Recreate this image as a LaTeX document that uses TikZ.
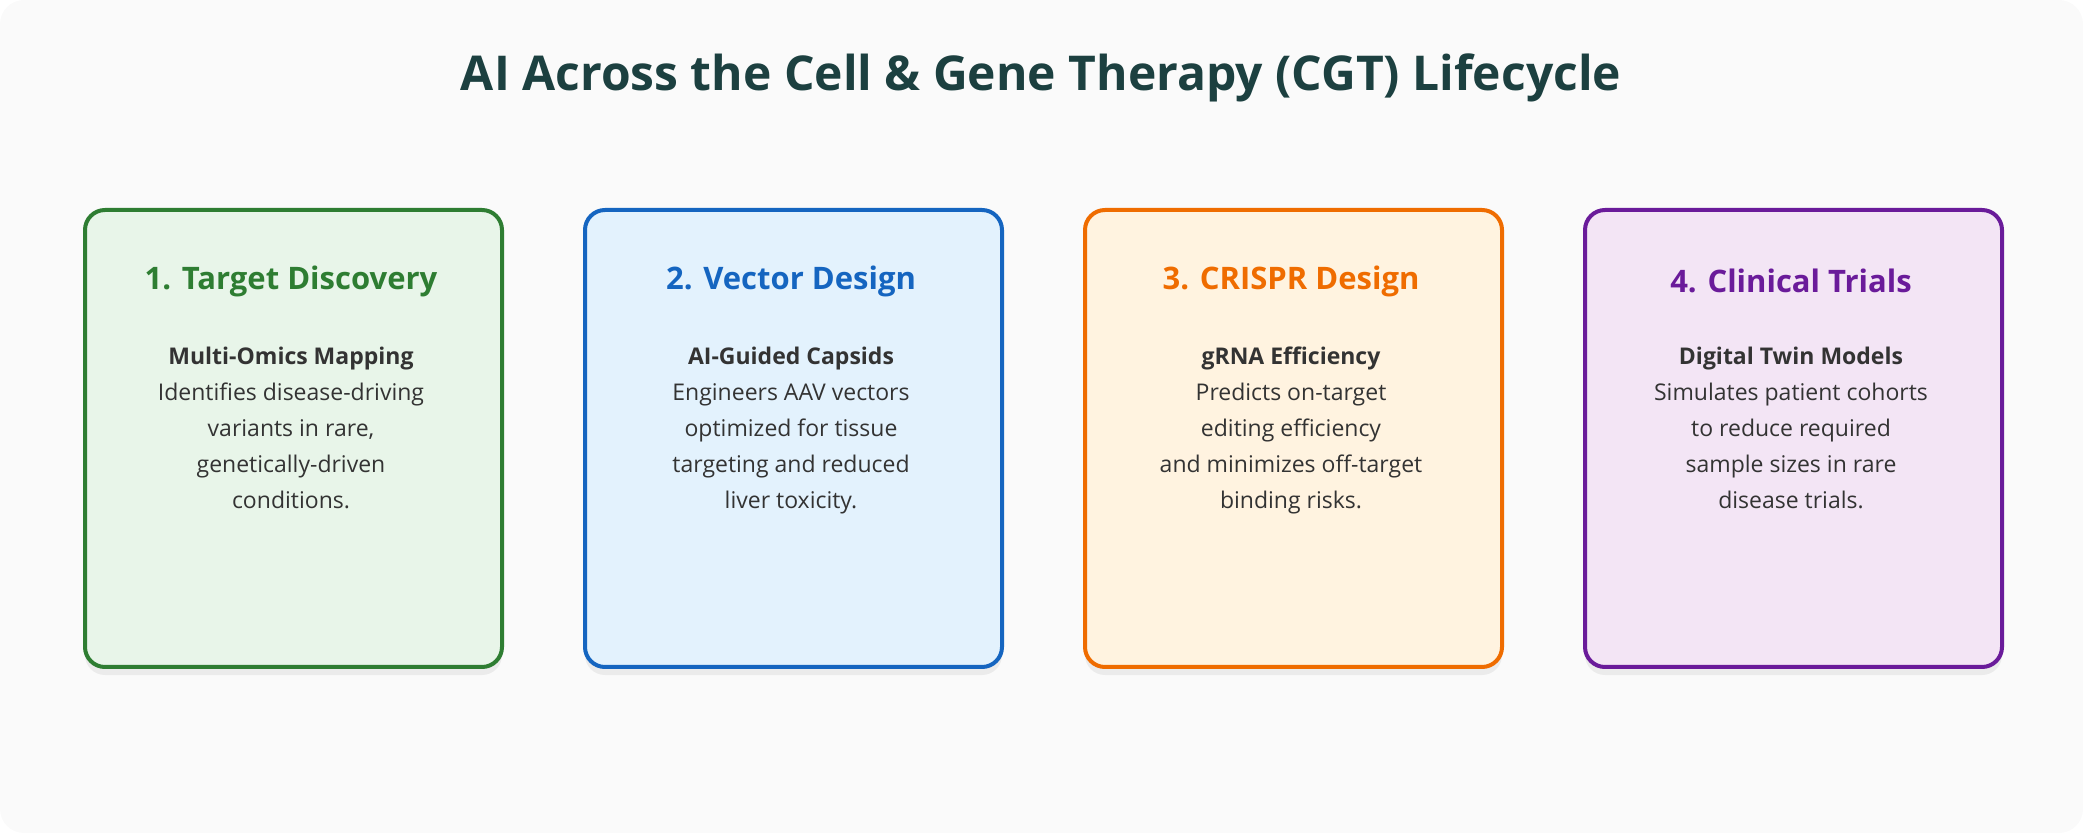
\documentclass[tikz,border=0pt]{standalone}
\usepackage{fontspec}
\setmainfont{Open Sans}
\begin{document}
\begin{tikzpicture}[x=0.5pt,y=-0.5pt,
 card/.style={draw=#1,line width=2pt,rounded corners=10pt,minimum width=208.5pt,minimum height=228.5pt,anchor=north west},
 ctitle/.style={font=\fontsize{15.5}{18}\selectfont\bfseries,text=#1},
 body/.style={align=center,anchor=north,text=black!80,font=\fontsize{11.5}{18}\selectfont},
 shadow/.style={fill=black!8,rounded corners=10pt,draw=none}]
\useasboundingbox (0,0) rectangle (2083,833);
\fill[black!2,rounded corners=12pt] (0,0) rectangle (2083,833);
\node[font=\fontsize{24}{28}\selectfont\bfseries,text={rgb,255:red,28;green,64;blue,64}] (title) at (1041,78) {AI Across the Cell \& Gene Therapy (CGT) Lifecycle};
\definecolor{g}{HTML}{2E7D32}\definecolor{gf}{HTML}{E8F5E9}
\definecolor{b}{HTML}{1565C0}\definecolor{bf}{HTML}{E3F2FD}
\definecolor{o}{HTML}{EF6C00}\definecolor{of}{HTML}{FFF3E0}
\definecolor{p}{HTML}{6A1B9A}\definecolor{pf}{HTML}{F3E5F5}
\foreach \x/\c/\n in {83/g/c1,583/b/c2,1083/o/c3,1583/p/c4}{
 \fill[shadow] (\x+2,214) rectangle ++(417,461);
 \node[card=\c,fill=\c f] (\n) at (\x,208) {};
}
\node[ctitle=g] (t1) at (291,281) {1. Target Discovery};
\node[ctitle=b] (t2) at (791,281) {2. Vector Design};
\node[ctitle=o] (t3) at (1291,281) {3. CRISPR Design};
\node[ctitle=p] (t4) at (1791,281) {4. Clinical Trials};
\node[body] (b1) at (291,340) {\textbf{Multi-Omics Mapping}\\Identifies disease-driving\\variants in rare,\\genetically-driven\\conditions.};
\node[body] (b2) at (791,340) {\textbf{AI-Guided Capsids}\\Engineers AAV vectors\\optimized for tissue\\targeting and reduced\\liver toxicity.};
\node[body] (b3) at (1291,340) {\textbf{gRNA Efficiency}\\Predicts on-target\\editing efficiency\\and minimizes off-target\\binding risks.};
\node[body] (b4) at (1791,340) {\textbf{Digital Twin Models}\\Simulates patient cohorts\\to reduce required\\sample sizes in rare\\disease trials.};
\end{tikzpicture}
\end{document}
